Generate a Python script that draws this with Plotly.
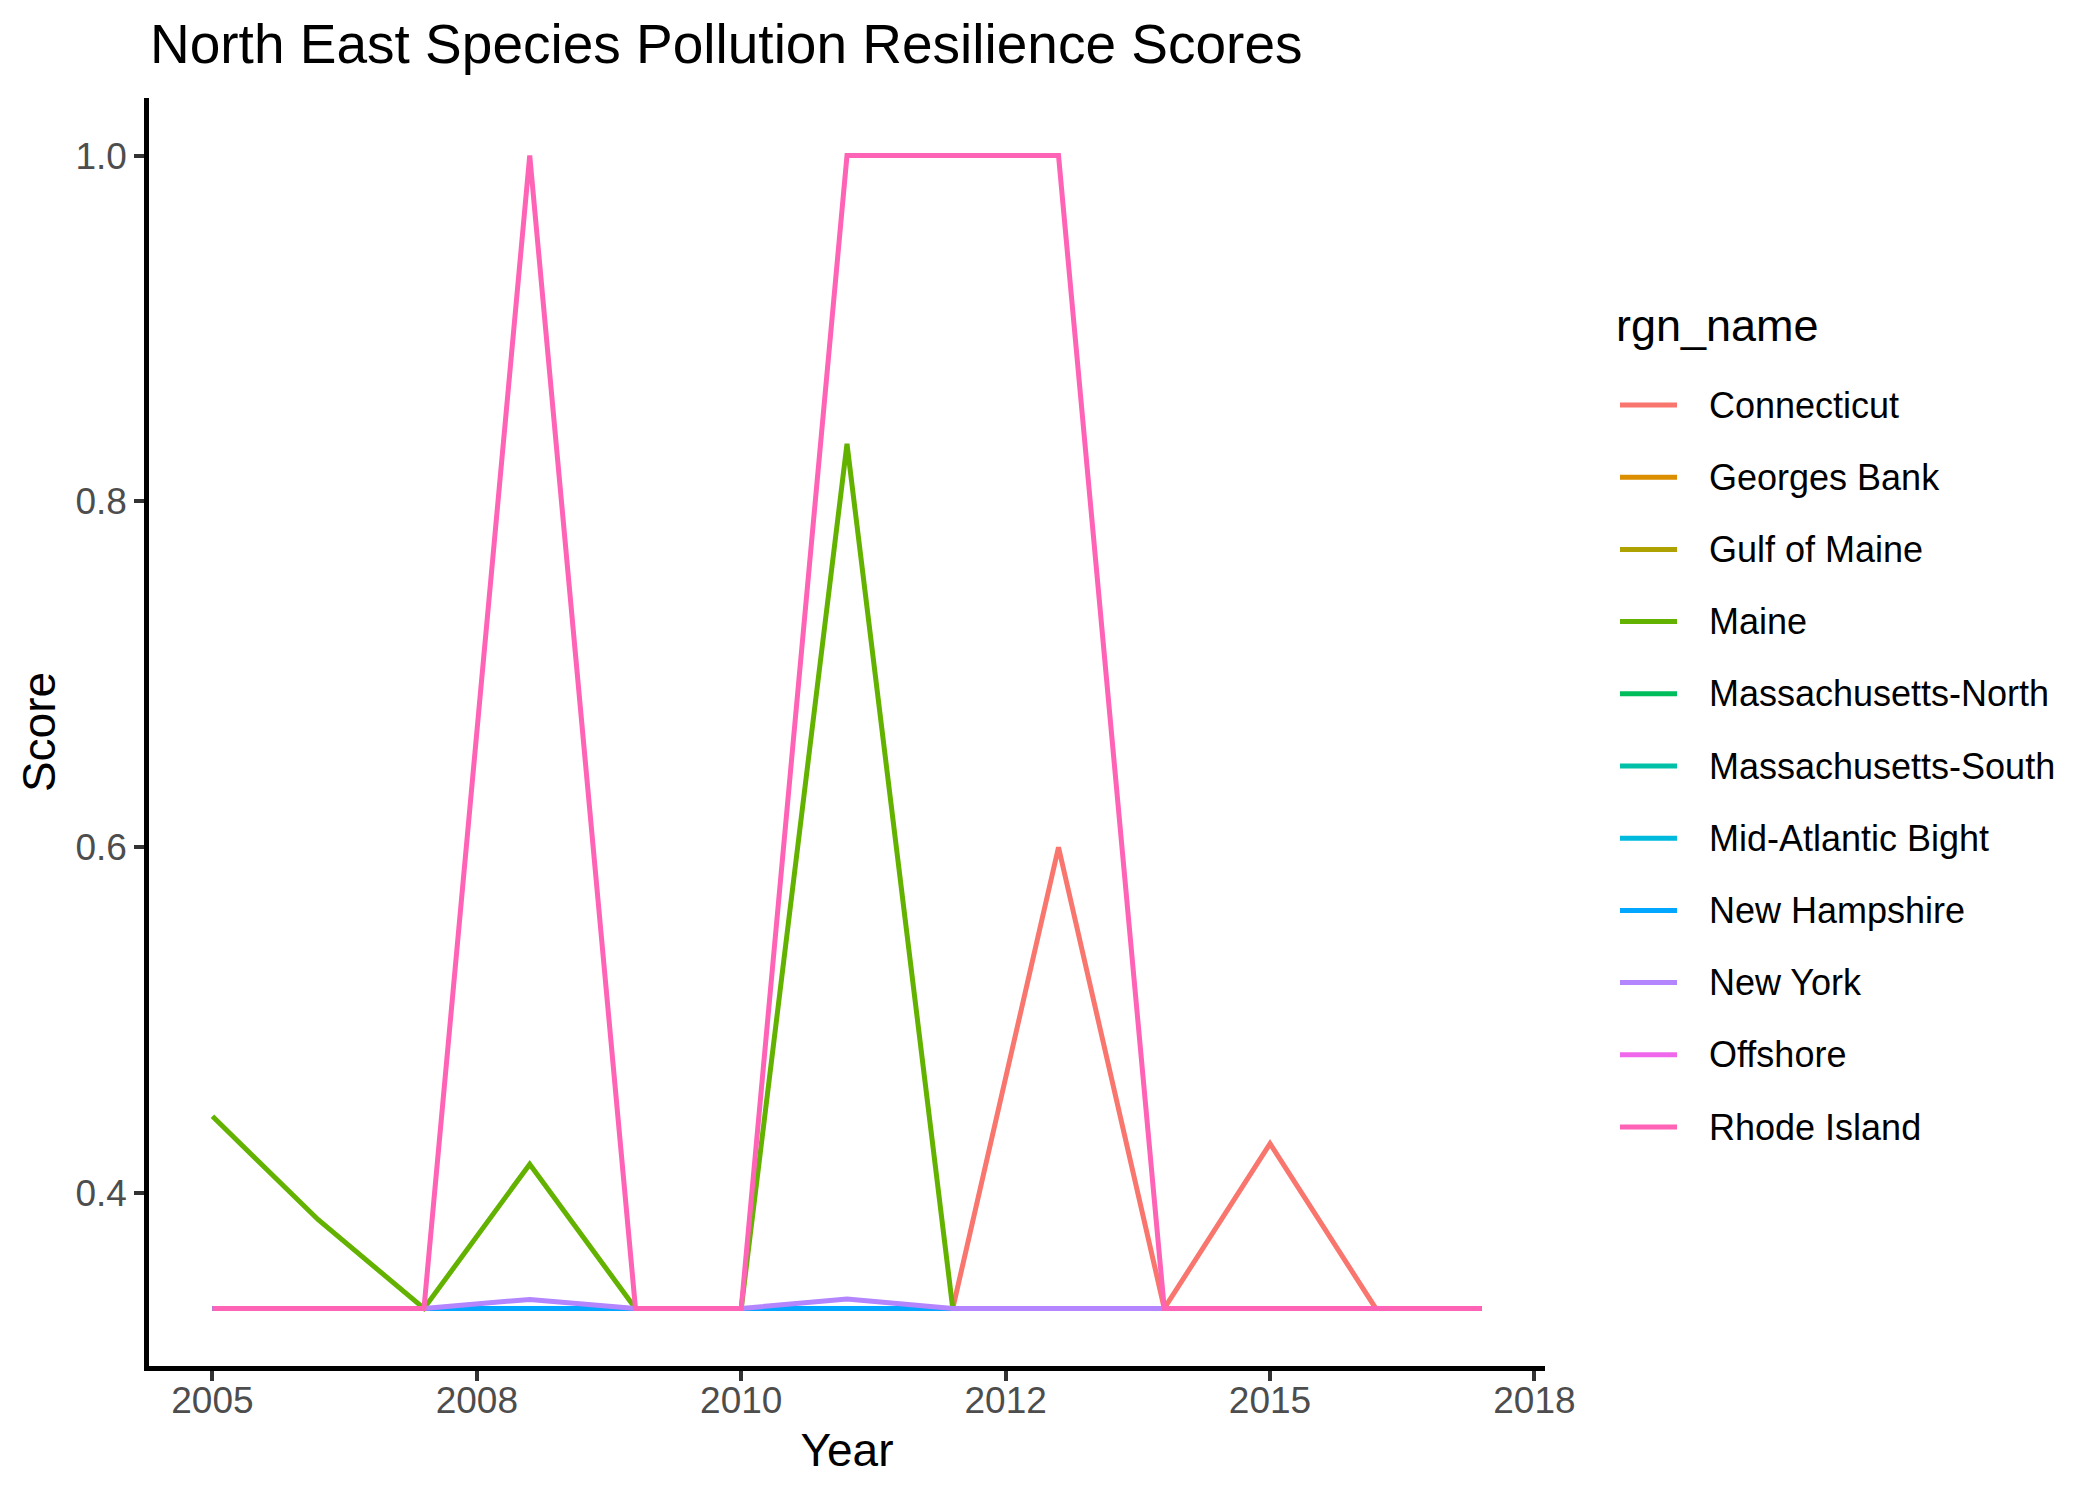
import plotly.graph_objects as go

# Scores per region, 2005-2017 (None = no data for that region)
years = [2005, 2006, 2007, 2008, 2009, 2010, 2011, 2012, 2013, 2014, 2015, 2016, 2017]

connecticut = [0.3333, 0.3333, 0.3333, 0.3333, 0.3333, 0.3333, 0.3333, 0.3333, 0.6, 0.3333, 0.4286, 0.3333, 0.3333]
georges_bank = [None] * 13
gulf_of_maine = [None] * 13
maine = [0.4444, 0.3846, 0.3333, 0.4167, 0.3333, 0.3333, 0.8333, 0.3333, 0.3333, 0.3333, 0.3333, 0.3333, 0.3333]
mass_north = [0.3333, 0.3333, 0.3333, 0.3333, 0.3333, 0.3333, 0.3333, 0.3333, 0.3333, 0.3333, 0.3333, 0.3333, 0.3333]
mass_south = [0.3333, 0.3333, 0.3333, 0.3333, 0.3333, 0.3333, 0.3333, 0.3333, 0.3333, 0.3333, 0.3333, 0.3333, 0.3333]
mid_atlantic = [0.3333, 0.3333, 0.3333, 0.3333, 0.3333, 0.3333, 0.3333, 0.3333, 0.3333, 0.3333, 0.3333, 0.3333, 0.3333]
new_hampshire = [0.3333, 0.3333, 0.3333, 0.3333, 0.3333, 0.3333, 0.3333, 0.3333, 0.3333, 0.3333, 0.3333, 0.3333, 0.3333]
new_york = [0.3333, 0.3333, 0.3333, 0.3385, 0.3333, 0.3333, 0.3387, 0.3333, 0.3333, 0.3333, 0.3333, 0.3333, 0.3333]
offshore = [None] * 13
rhode_island = [0.3333, 0.3333, 0.3333, 1.0, 0.3333, 0.3333, 1.0, 1.0, 1.0, 0.3333, 0.3333, 0.3333, 0.3333]

regions = [
    ("Connecticut", connecticut, "#F8766D"),
    ("Georges Bank", georges_bank, "#DB8E00"),
    ("Gulf of Maine", gulf_of_maine, "#AEA200"),
    ("Maine", maine, "#64B200"),
    ("Massachusetts-North", mass_north, "#00BD5C"),
    ("Massachusetts-South", mass_south, "#00C1A7"),
    ("Mid-Atlantic Bight", mid_atlantic, "#00BADE"),
    ("New Hampshire", new_hampshire, "#00A6FF"),
    ("New York", new_york, "#B385FF"),
    ("Offshore", offshore, "#EF67EB"),
    ("Rhode Island", rhode_island, "#FF63B6"),
]

x_ticks = [2005, 2007.5, 2010, 2012.5, 2015, 2017.5]
x_tick_labels = ["2005", "2008", "2010", "2012", "2015", "2018"]
y_ticks = [0.4, 0.6, 0.8, 1.0]
y_tick_labels = ["0.4", "0.6", "0.8", "1.0"]

FONT = "Liberation Sans, Arial, sans-serif"

# plot area in page pixels (used to place the ggplot-style legend)
PLOT_L, PLOT_W = 141, 1396
PLOT_B, PLOT_H = 1358, 1268


def px_x(px):
    return (px - PLOT_L) / PLOT_W


def px_y(px):
    return (PLOT_B - px) / PLOT_H


fig = go.Figure()
for name, values, color in regions:
    fig.add_trace(go.Scatter(
        x=years, y=values, name=name, mode="lines",
        line=dict(color=color, width=5),
        showlegend=False,
    ))

axis_common = dict(
    showgrid=False, zeroline=False,
    showline=True, linecolor="black", linewidth=4.5,
    ticks="outside", ticklen=10, tickwidth=4, tickcolor="#333333",
    tickfont=dict(family=FONT, size=37, color="#4D4D4D"),
    title_font=dict(family=FONT, size=46, color="black"),
)

fig.update_xaxes(
    range=[2004.4, 2017.6], tickvals=x_ticks, ticktext=x_tick_labels,
    title_text="Year", title_standoff=15, ticklabelstandoff=-12, **axis_common,
)
fig.update_yaxes(
    range=[0.3, 1.0333], tickvals=y_ticks, ticktext=y_tick_labels,
    title_text="Score", title_standoff=7, ticklabelstandoff=0, **axis_common,
)

# legend: title, then one key line + label per region
annotations = [dict(
    text="rgn_name", xref="paper", yref="paper",
    x=px_x(1606), y=px_y(317), xanchor="left", yanchor="middle",
    showarrow=False, font=dict(family=FONT, size=45, color="black"),
)]
shapes = []
for i, (name, _, color) in enumerate(regions):
    yc = px_y(397 + 72.2 * i)
    shapes.append(dict(
        type="line", xref="paper", yref="paper",
        x0=px_x(1612), x1=px_x(1669), y0=yc, y1=yc,
        line=dict(color=color, width=5),
    ))
    annotations.append(dict(
        text=name, xref="paper", yref="paper",
        x=px_x(1699), y=yc, xanchor="left", yanchor="middle",
        showarrow=False, font=dict(family=FONT, size=36, color="black"),
    ))

fig.update_layout(
    template="none",
    width=2100, height=1500,
    margin=dict(l=PLOT_L, r=2100 - PLOT_L - PLOT_W, t=90, b=1500 - PLOT_B),
    paper_bgcolor="white", plot_bgcolor="white",
    font=dict(family=FONT, color="black"),
    title=dict(
        text="North East Species Pollution Resilience Scores",
        x=142 / 2100, xanchor="left", y=1 - 36 / 1500, yanchor="middle",
        font=dict(family=FONT, size=55, color="black"),
    ),
    showlegend=False,
    annotations=annotations,
    shapes=shapes,
)

fig.write_html("out.html")
